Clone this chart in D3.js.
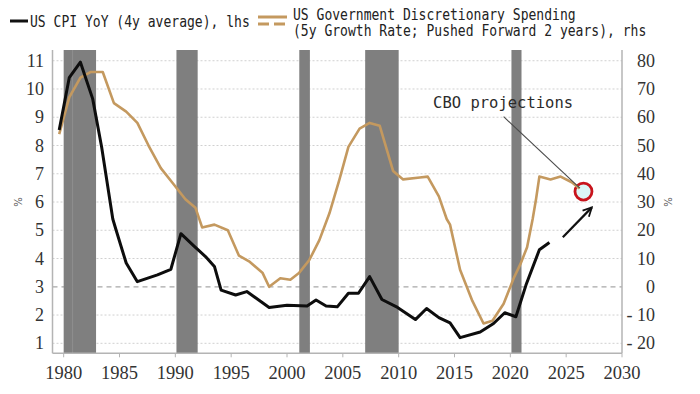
<!DOCTYPE html>
<html>
<head>
<meta charset="utf-8">
<script src="https://cdn.jsdelivr.net/npm/d3@7"></script>
<style>
    body { margin: 0; background: #fff; }
    svg { display: block; }
</style>
</head>
<body>
<div id="chart"></div>
<script>
const cpiYears = [1979.6, 1980.5, 1981.5, 1982.6, 1983.4, 1984.4, 1984.7, 1985.6, 1986.6, 1988.4, 1989.6,
    1990.5, 1991.7, 1992.7, 1993.5, 1994.1, 1995.4, 1996.4, 1998.4, 2000.0, 2001.8, 2002.6, 2003.5,
    2004.5, 2005.5, 2006.4, 2007.4, 2008.5, 2009.9, 2011.5, 2012.5, 2013.6, 2014.6, 2015.5, 2017.3,
    2018.5, 2019.5, 2020.5, 2021.4, 2022.6, 2023.5];
const cpiValues = [8.55, 10.4, 10.95, 9.65, 7.95, 5.4, 5.0, 3.84, 3.18, 3.42, 3.62,
    4.88, 4.43, 4.07, 3.72, 2.88, 2.71, 2.83, 2.27, 2.35, 2.32, 2.53, 2.32,
    2.29, 2.77, 2.77, 3.36, 2.55, 2.27, 1.84, 2.23, 1.91, 1.72, 1.2, 1.4,
    1.7, 2.08, 1.94, 3.06, 4.31, 4.57];

const spendYears = [1979.6, 1980.5, 1981.5, 1982.4, 1983.5, 1984.5, 1985.6, 1986.6, 1987.6, 1988.7, 1989.9,
    1990.9, 1991.8, 1992.4, 1993.5, 1994.7, 1995.7, 1996.6, 1997.8, 1998.4, 1999.4, 2000.3, 2001.1,
    2002.0, 2002.9, 2003.8, 2004.7, 2005.5, 2006.5, 2007.4, 2008.3, 2009.5, 2010.4, 2011.9, 2012.6,
    2013.6, 2014.3, 2014.6, 2015.5, 2016.6, 2017.6, 2018.4, 2019.4, 2020.3, 2020.9, 2021.5, 2022.0,
    2022.3, 2022.6, 2023.6, 2024.5, 2025.5, 2026.2];
const spendValues = [54, 67, 74, 76, 76, 65, 62, 58, 50, 42, 36,
    31, 28, 21, 22, 20, 11, 9, 5, 0, 3, 2.5, 5,
    9.5, 16.5, 26, 38, 49.5, 56, 58, 57, 41, 38, 38.7, 39,
    32, 24, 22, 6, -5, -13, -12, -6, 3, 8, 14, 24,
    31, 39, 38, 39, 37, 34.8];

const recessions = [[1980.0, 1980.8], [1980.8, 1982.9], [1990.1, 1992.0], [2001.1, 2002.05], [2007.0, 2010.0], [2020.1, 2021.0]];

const leftTicks = [1, 2, 3, 4, 5, 6, 7, 8, 9, 10, 11];
const rightTicks = [-20, -10, 0, 10, 20, 30, 40, 50, 60, 70, 80];
const yearTicks = [1980, 1985, 1990, 1995, 2000, 2005, 2010, 2015, 2020, 2025, 2030];

const cpiLabel = "US CPI YoY (4y average), lhs";
const spendLabel = ["US Government Discretionary Spending", "(5y Growth Rate; Pushed Forward 2 years), rhs"];
const cboLabel = "CBO projections";
// annotation anchors in data units (year, rhs value)
const cboPoint = [2026.55, 33.7];
const cboTextPoint = [2019.35, 63.3];
const leaderStart = [2019.4, 60.2];
const arrowPoints = [[2024.7, 17.5], [2027.3, 28.1]];


class SpendingChart {
    constructor(width, height) {
        this.width = width;
        this.height = height;
        this.x = d3.scaleLinear().domain([1979, 2030]).range([52.5, 622]);
        this.yLeft = d3.scaleLinear().domain([0.646, 11.38]).range([353.3, 50]);
        // rhs = (lhs - 3) * 10
        this.yRight = d3.scaleLinear().domain([-23.54, 83.8]).range([353.3, 50]);
    }

    init(root) {
        let svg = d3.select(root).append("svg")
            .attr("width", this.width)
            .attr("height", this.height);
        this.createMarker(svg);
        this.createGrid(svg);
        this.createRecessions(svg);
        this.createAxes(svg);
        this.createCircle(svg);
        this.createLines(svg);
        this.createAnnotations(svg);
        this.createLegend(svg);
    }

    createMarker(svg) {
        svg.append("defs").append("marker")
            .attr("id", "arrowHead")
            .attr("viewBox", "0 0 10 10")
            .attr("refX", 9).attr("refY", 5)
            .attr("markerWidth", 5).attr("markerHeight", 5)
            .attr("markerUnits", "strokeWidth")
            .attr("orient", "auto")
            .append("path")
            .attr("d", "M1,1 L9,5 L1,9")
            .attr("fill", "none")
            .attr("stroke", "#111")
            .attr("stroke-width", 1.6);
    }

    createGrid(svg) {
        let x0 = this.x.range()[0], x1 = this.x.range()[1];
        svg.append("g").selectAll("line")
            .data(leftTicks)
            .enter()
            .append("line")
            .attr("x1", x0).attr("x2", x1)
            .attr("y1", d => this.yLeft(d)).attr("y2", d => this.yLeft(d))
            .attr("stroke", d => d === 3 ? "#a8a8a8" : "#d0d0d0")
            .attr("stroke-width", d => d === 3 ? 1.3 : 1)
            .attr("stroke-dasharray", d => d === 3 ? "5,4" : "2,2");
    }

    createRecessions(svg) {
        let top = this.yLeft.range()[1], bottom = this.yLeft.range()[0];
        svg.append("g").selectAll("rect")
            .data(recessions)
            .enter()
            .append("rect")
            .attr("x", d => this.x(d[0]))
            .attr("width", d => this.x(d[1]) - this.x(d[0]))
            .attr("y", top)
            .attr("height", bottom - top)
            .attr("fill", "#7f7f7f");
        // faint seam between the two early recessions
        svg.append("line")
            .attr("x1", this.x(1980.8)).attr("x2", this.x(1980.8))
            .attr("y1", top).attr("y2", bottom)
            .attr("stroke", "#8c8c8c").attr("stroke-width", 1);
    }

    createAxes(svg) {
        let x0 = this.x.range()[0], x1 = this.x.range()[1];
        let top = this.yLeft.range()[1], bottom = this.yLeft.range()[0];
        let axisColor = "#b4b4b4";
        let labelColor = "#333";

        svg.append("line").attr("x1", x0).attr("x2", x0).attr("y1", top).attr("y2", bottom)
            .attr("stroke", axisColor).attr("stroke-width", 1.5);
        svg.append("line").attr("x1", x1).attr("x2", x1).attr("y1", top).attr("y2", bottom)
            .attr("stroke", axisColor).attr("stroke-width", 1.5);
        svg.append("line").attr("x1", x0).attr("x2", x1).attr("y1", bottom).attr("y2", bottom)
            .attr("stroke", axisColor).attr("stroke-width", 1.5);

        let xAxis = svg.append("g").attr("transform", "translate(0," + bottom + ")");
        xAxis.selectAll("line")
            .data(yearTicks)
            .enter()
            .append("line")
            .attr("x1", d => this.x(d)).attr("x2", d => this.x(d))
            .attr("y1", 0).attr("y2", 4)
            .attr("stroke", axisColor);
        xAxis.selectAll("text")
            .data(yearTicks)
            .enter()
            .append("text")
            .attr("x", d => this.x(d))
            .attr("y", 26)
            .attr("text-anchor", "middle")
            .attr("font-family", "Liberation Serif, serif")
            .attr("font-size", 18.5)
            .attr("fill", labelColor)
            .text(d => d);

        svg.append("g").selectAll("text")
            .data(leftTicks)
            .enter()
            .append("text")
            .attr("x", 44)
            .attr("y", d => this.yLeft(d) + 6)
            .attr("text-anchor", "end")
            .attr("font-family", "Liberation Serif, serif")
            .attr("font-size", 18)
            .attr("fill", labelColor)
            .text(d => d);

        svg.append("g").selectAll("text")
            .data(rightTicks)
            .enter()
            .append("text")
            .attr("x", 655)
            .attr("y", d => this.yRight(d) + 6)
            .attr("text-anchor", "end")
            .attr("font-family", "Liberation Serif, serif")
            .attr("font-size", 18)
            .attr("fill", labelColor)
            .text(d => d < 0 ? "- " + Math.abs(d) : d);

        // rotated unit signs
        svg.append("text")
            .attr("transform", "translate(18," + this.yLeft(6) + ") rotate(-90)")
            .attr("text-anchor", "middle")
            .attr("dy", "0.35em")
            .attr("font-family", "DejaVu Sans, sans-serif")
            .attr("font-size", 10)
            .attr("fill", "#555")
            .text("%");
        svg.append("text")
            .attr("transform", "translate(667," + this.yRight(30) + ") rotate(90)")
            .attr("text-anchor", "middle")
            .attr("dy", "0.35em")
            .attr("font-family", "DejaVu Sans, sans-serif")
            .attr("font-size", 10)
            .attr("fill", "#555")
            .text("%");
    }

    createCircle(svg) {
        svg.append("circle")
            .attr("cx", this.x(cboPoint[0]))
            .attr("cy", this.yRight(cboPoint[1]))
            .attr("r", 8.5)
            .attr("fill", "#dcf6f6")
            .attr("stroke", "#c8141c")
            .attr("stroke-width", 2.8);
    }

    createLines(svg) {
        let self = this;
        let spendLine = d3.line()
            .x(function (d, i) { return self.x(spendYears[i]); })
            .y(function (d) { return self.yRight(d); });
        let cpiLine = d3.line()
            .x(function (d, i) { return self.x(cpiYears[i]); })
            .y(function (d) { return self.yLeft(d); });

        svg.append("path")
            .attr("d", spendLine(spendValues))
            .attr("fill", "none")
            .attr("stroke", "#c4995f")
            .attr("stroke-width", 2.6)
            .attr("stroke-linejoin", "round");

        svg.append("path")
            .attr("d", cpiLine(cpiValues))
            .attr("fill", "none")
            .attr("stroke", "#0d0d0d")
            .attr("stroke-width", 3)
            .attr("stroke-linejoin", "round");
    }

    createAnnotations(svg) {
        let cx = this.x(cboPoint[0]), cy = this.yRight(cboPoint[1]);
        let sx = this.x(leaderStart[0]), sy = this.yRight(leaderStart[1]);
        let ang = Math.atan2(cy - sy, cx - sx);
        svg.append("line")
            .attr("x1", sx).attr("y1", sy)
            .attr("x2", cx - Math.cos(ang) * 5).attr("y2", cy - Math.sin(ang) * 5)
            .attr("stroke", "#4a4a4a")
            .attr("stroke-width", 1.1);

        svg.append("text")
            .attr("transform", "translate(" + this.x(cboTextPoint[0]) + "," + this.yRight(cboTextPoint[1]) + ") scale(0.97,1)")
            .attr("text-anchor", "middle")
            .attr("font-family", "DejaVu Sans Mono, monospace")
            .attr("font-size", 16)
            .attr("fill", "#2b2b2b")
            .text(cboLabel);

        svg.append("line")
            .attr("x1", this.x(arrowPoints[0][0])).attr("y1", this.yRight(arrowPoints[0][1]))
            .attr("x2", this.x(arrowPoints[1][0])).attr("y2", this.yRight(arrowPoints[1][1]))
            .attr("stroke", "#111")
            .attr("stroke-width", 2.2)
            .attr("marker-end", "url(#arrowHead)");
    }

    createLegend(svg) {
        let legend = svg.append("g");
        let mono = "DejaVu Sans Mono, monospace";

        legend.append("line")
            .attr("x1", 10).attr("x2", 28).attr("y1", 21).attr("y2", 21)
            .attr("stroke", "#111").attr("stroke-width", 3);
        legend.append("text")
            .attr("transform", "translate(30,27) scale(0.87,1)")
            .attr("font-family", mono)
            .attr("font-size", 15)
            .attr("fill", "#222")
            .text(cpiLabel);

        legend.append("line")
            .attr("x1", 258).attr("x2", 287).attr("y1", 17).attr("y2", 17)
            .attr("stroke", "#c4995f").attr("stroke-width", 3);
        legend.append("line")
            .attr("x1", 258).attr("x2", 287).attr("y1", 24).attr("y2", 24)
            .attr("stroke", "#c4995f").attr("stroke-width", 3)
            .attr("stroke-dasharray", "11,5");

        legend.selectAll("text.spend")
            .data(spendLabel)
            .enter()
            .append("text")
            .attr("class", "spend")
            .attr("transform", (d, i) => "translate(293," + (20 + i * 15.5) + ") scale(0.87,1)")
            .attr("font-family", mono)
            .attr("font-size", 15)
            .attr("fill", "#222")
            .text(d => d);
    }
}

let chart = new SpendingChart(700, 394);
chart.init("#chart");
</script>
</body>
</html>
